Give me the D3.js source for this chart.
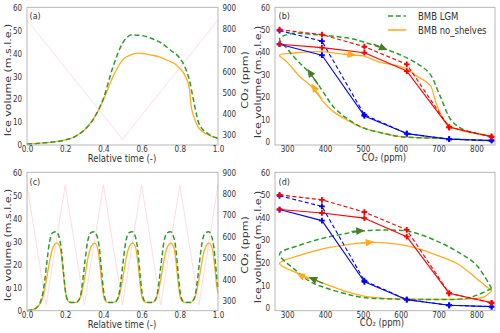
<!DOCTYPE html>
<html lang="en">
<head>
<meta charset="UTF-8">
<script src="https://cdn.jsdelivr.net/npm/d3@7"></script>
<title>Ice volume hysteresis</title>
<style>
    body { margin: 0; background: white; }
    text { font-family: "DejaVu Sans", sans-serif; fill: #333; }
</style>
</head>
<body>
<svg id="fig" width="500" height="333"></svg>
<script>
// ---- data ----
// (a) single slow CO2 cycle
const co2TimeA = [0, 0.5, 1];
const co2ValA = [840, 280, 840];
const timeA_ns = [0, 0.1, 0.2, 0.25, 0.3, 0.35, 0.4, 0.45, 0.5, 0.55, 0.58, 0.65, 0.7, 0.75, 0.78, 0.8, 0.83, 0.85, 0.86, 0.88, 0.9, 0.95, 1.0];
const iceA_ns = [0.4, 1, 2.2, 3.6, 6.5, 11.6, 19.6, 29.8, 37, 39.5, 40, 39.2, 38.2, 36.3, 35, 33.4, 29.8, 24.7, 16.7, 10.9, 7.3, 4.4, 2.9];
const timeA_lgm = [0, 0.1, 0.2, 0.25, 0.3, 0.35, 0.4, 0.45, 0.5, 0.55, 0.6, 0.65, 0.7, 0.75, 0.8, 0.83, 0.85, 0.87, 0.89, 0.9, 0.95, 1.0];
const iceA_lgm = [0.4, 1, 2.2, 3.6, 6.5, 11.6, 20.3, 34, 44.3, 48, 47.7, 46.5, 44.6, 41.4, 37.8, 33.4, 28.3, 20.3, 12.4, 9.4, 4.8, 2.9];

// (b) same run against CO2
const co2B_ns = [840, 800, 700, 600, 555, 500, 458, 422, 400, 372, 360, 334, 299, 280, 325, 387, 466, 500, 545, 600, 616, 640, 665, 680, 692, 702, 720, 755, 800, 840];
const iceB_ns = [0.4, 0.7, 1.5, 2.2, 3.7, 6.2, 9.7, 13.4, 17, 23, 25.3, 29, 35.7, 38.5, 39.7, 40.2, 38.7, 38.3, 35.5, 33.5, 32.5, 29.5, 27, 24.5, 18, 13.5, 8.5, 5.2, 3.5, 2.5];
const co2B_lgm = [840, 800, 700, 600, 555, 500, 458, 422, 400, 380, 360, 340, 320, 300, 280, 317, 340, 387, 467, 500, 555, 600, 642, 676, 703, 733, 763, 800, 840];
const iceB_lgm = [0.4, 0.7, 1.5, 2.2, 3.7, 6.2, 10.4, 15.6, 21, 26, 30.5, 34, 37.5, 41.5, 46, 48.4, 48.3, 47.6, 46.1, 44.6, 41.6, 38.7, 35, 30.5, 20.8, 9.7, 5.6, 3.7, 2.5];

// steady-state reference branches (red and blue, solid and dashed)
const co2Steps = [280, 392, 504, 616, 728, 840];
const redSolid = [43.5, 42, 39.7, 31.5, 6.4, 2.2];
const redDashed = [50, 47.8, 42.4, 34.5, 6.4, 2.2];
const blueSolid = [43.5, 38.6, 11.5, 3.6, 1.1, 0.5];
const blueDashed = [49.6, 44.9, 12, 3.6, 1.1, 0.5];

// (c) five fast CO2 cycles
const co2TimeC = [0, 0.1, 0.2, 0.3, 0.4, 0.5, 0.6, 0.7, 0.8, 0.9, 1.0];
const co2ValC = [840, 280, 840, 280, 840, 280, 840, 280, 840, 280, 840];
const timeC_ns = [0, 0.03, 0.05, 0.07, 0.085, 0.1, 0.115, 0.13, 0.145, 0.157, 0.174, 0.186, 0.197, 0.209, 0.226,
    0.255, 0.27, 0.287, 0.304, 0.322, 0.339, 0.353, 0.37, 0.382, 0.393, 0.405, 0.422,
    0.455, 0.47, 0.487, 0.504, 0.522, 0.539, 0.553, 0.57, 0.582, 0.593, 0.605, 0.622,
    0.655, 0.67, 0.687, 0.704, 0.722, 0.739, 0.753, 0.77, 0.782, 0.793, 0.805, 0.822,
    0.855, 0.87, 0.887, 0.904, 0.922, 0.939, 0.953, 0.97, 0.982, 0.993, 1.0];
const iceC_ns = [0, 0.5, 1.3, 3.3, 6.5, 12.5, 20, 26, 28.8, 29.3, 27, 19.6, 11, 5, 3.6,
    3.6, 4.4, 8, 15.3, 24, 28.3, 29.3, 27, 19.6, 11, 5, 3.6,
    3.6, 4.4, 8, 15.3, 24, 28.3, 29.3, 27, 19.6, 11, 5, 3.6,
    3.6, 4.4, 8, 15.3, 24, 28.3, 29.3, 27, 19.6, 11, 5, 3.6,
    3.6, 4.4, 8, 15.3, 24, 28.3, 29.3, 27, 19.6, 11, 7.5];
const timeC_lgm = [0, 0.03, 0.05, 0.078, 0.092, 0.104, 0.118, 0.134, 0.152, 0.165, 0.179, 0.191, 0.202, 0.214, 0.23,
    0.258, 0.278, 0.291, 0.303, 0.317, 0.333, 0.352, 0.365, 0.379, 0.391, 0.402, 0.414, 0.43,
    0.458, 0.478, 0.491, 0.503, 0.517, 0.533, 0.552, 0.565, 0.579, 0.591, 0.602, 0.614, 0.63,
    0.658, 0.678, 0.691, 0.703, 0.717, 0.733, 0.752, 0.765, 0.779, 0.791, 0.802, 0.814, 0.83,
    0.858, 0.878, 0.891, 0.903, 0.917, 0.933, 0.952, 0.965, 0.979, 0.991, 1.0];
const iceC_lgm = [0, 0.5, 1.3, 5.8, 12.4, 21, 29.8, 33.7, 34.2, 32.7, 27, 16.7, 8, 4.4, 3.6,
    3.6, 5.8, 12.4, 21, 29.8, 33.7, 34.2, 32.7, 27, 16.7, 8, 4.4, 3.6,
    3.6, 5.8, 12.4, 21, 29.8, 33.7, 34.2, 32.7, 27, 16.7, 8, 4.4, 3.6,
    3.6, 5.8, 12.4, 21, 29.8, 33.7, 34.2, 32.7, 27, 16.7, 8, 4.4, 3.6,
    3.6, 5.8, 12.4, 21, 29.8, 33.7, 34.2, 32.7, 27, 16.7, 9];

// (d) fast cycles against CO2 (one loop, later loops overlap)
const co2D_ns = [840, 820, 780, 700, 600, 547, 500, 450, 400, 335, 280, 335, 400, 460, 520, 600, 650, 700, 750, 800, 840];
const iceD_ns = [7.5, 4.8, 3.9, 3.7, 3.9, 4.3, 5.3, 7.5, 10.6, 14.8, 19.6, 23.3, 26.3, 28, 29, 28, 26, 23, 19.5, 13, 7.5];
const co2D_lgm = [840, 800, 766, 678, 600, 500, 450, 400, 362, 320, 280, 335, 400, 500, 573, 626, 700, 750, 800, 840];
const iceD_lgm = [8.5, 5.5, 4, 3.7, 3.8, 4.6, 6.4, 8.9, 11.5, 17, 23.8, 27.8, 31, 34, 34.4, 33.7, 29.2, 24.8, 18.9, 8.5];

// direction arrows: [co2 from, ice from, co2 to, ice to]
const arrowsB_lgm = [[528, 43.6, 565, 40.9], [382, 25.5, 353, 32.5]];
const arrowsB_ns = [[450, 39.2, 482, 38.6], [392, 19, 364, 25.8]];
const arrowsD_lgm = [[470, 33.8, 505, 34.2], [395, 10.8, 357, 13.6]];
const arrowsD_ns = [[495, 28.6, 530, 29.2], [357, 12.6, 325, 15.3]];

const timeTicks = [0, 0.2, 0.4, 0.6, 0.8, 1.0];
const iceTicks = [0, 10, 20, 30, 40, 50, 60];
const co2RightTicks = [300, 400, 500, 600, 700, 800, 900];
const co2Ticks = [300, 400, 500, 600, 700, 800];

// ---- drawing ----
const SX = 0.85;           // the source figure is a bit squeezed horizontally
const green = "#2f9a2f", greenArrow = "#4a7d2b", orange = "#ffad1f", pink = "#ffd3dc";
const frameColor = "#b0b0b0";

const svg = d3.select("#fig");

function panel(box, xd, yd) {
    const g = svg.append("g");
    const x = d3.scaleLinear().domain(xd).range([box.x0, box.x1]);
    const y = d3.scaleLinear().domain(yd).range([box.y1, box.y0]);
    return { g, x, y, box };
}

function styleAxis(sel, size) {
    sel.select(".domain").remove();
    sel.selectAll("text").attr("font-size", size).attr("fill", "#333")
        .attr("transform", `scale(0.8,1)`);
}

function frame(p) {
    p.g.append("rect")
        .attr("x", p.box.x0).attr("y", p.box.y0)
        .attr("width", p.box.x1 - p.box.x0).attr("height", p.box.y1 - p.box.y0)
        .attr("fill", "none").attr("stroke", frameColor).attr("stroke-width", 0.9);
}

function label(x, y, s, size, anchor, rot) {
    const t = svg.append("text")
        .attr("font-size", size)
        .attr("text-anchor", anchor)
        .attr("transform", rot ? `translate(${x},${y}) rotate(-90) scale(1,${SX})` : `translate(${x},${y}) scale(${SX},1)`)
        .text(s);
    return t;
}

function axesTime(p, rightY) {
    p.g.append("g").attr("transform", `translate(0,${p.box.y1})`)
        .call(d3.axisBottom(p.x).tickValues(timeTicks).tickFormat(d3.format(".1f")).tickSize(0).tickPadding(0.8))
        .call(s => styleAxis(s, 9));
    p.g.append("g").attr("transform", `translate(${p.box.x0},0)`)
        .call(d3.axisLeft(p.y).tickValues(iceTicks).tickSize(0).tickPadding(6.2))
        .call(s => styleAxis(s, 9));
    p.g.append("g").attr("transform", `translate(${p.box.x1},0)`)
        .call(d3.axisRight(rightY).tickValues(co2RightTicks).tickSize(0).tickPadding(5.5))
        .call(s => styleAxis(s, 9));
}

function axesCO2(p) {
    p.g.append("g").attr("transform", `translate(0,${p.box.y1})`)
        .call(d3.axisBottom(p.x).tickValues(co2Ticks).tickSize(0).tickPadding(0.8))
        .call(s => styleAxis(s, 9));
    p.g.append("g").attr("transform", `translate(${p.box.x0},0)`)
        .call(d3.axisLeft(p.y).tickValues(iceTicks).tickSize(0).tickPadding(6.2))
        .call(s => styleAxis(s, 9));
}

function line(p, xs, ys, color, width, dash, curve, yScale) {
    const yS = yScale || p.y;
    const gen = d3.line().x(d => p.x(d[0])).y(d => yS(d[1])).curve(curve || d3.curveLinear);
    p.g.append("path")
        .attr("d", gen(d3.zip(xs, ys)))
        .attr("fill", "none").attr("stroke", color).attr("stroke-width", width)
        .attr("stroke-dasharray", dash || null)
        .attr("stroke-linejoin", "round");
}

const plusMarker = d3.symbol(d3.symbolCross, 18);
function markers(p, xs, ys, color) {
    p.g.selectAll(null).data(d3.zip(xs, ys)).enter().append("path")
        .attr("d", plusMarker)
        .attr("transform", d => `translate(${p.x(d[0])},${p.y(d[1])})`)
        .attr("fill", color);
}

function arrows(p, list, color) {
    list.forEach(a => {
        const x0 = p.x(a[0]), y0 = p.y(a[1]), x1 = p.x(a[2]), y1 = p.y(a[3]);
        const ang = Math.atan2(y1 - y0, x1 - x0);
        const L = 8.5, hw = 3.8;
        const bx = x1 - L * Math.cos(ang), by = y1 - L * Math.sin(ang);
        p.g.append("line").attr("x1", x0).attr("y1", y0).attr("x2", bx).attr("y2", by)
            .attr("stroke", color).attr("stroke-width", 1.3);
        const pts = [[x1, y1],
            [bx + hw * Math.sin(ang), by - hw * Math.cos(ang)],
            [bx - hw * Math.sin(ang), by + hw * Math.cos(ang)]];
        p.g.append("path").attr("d", "M" + pts.map(q => q.join(",")).join("L") + "Z").attr("fill", color);
    });
}

function steadyBranches(p) {
    line(p, co2Steps, blueDashed, "blue", 1.1, "4,2.5");
    line(p, co2Steps, blueSolid, "blue", 1.1);
    markers(p, co2Steps, blueDashed, "blue");
    markers(p, co2Steps, blueSolid, "blue");
    line(p, co2Steps, redDashed, "red", 1.1, "4,2.5");
    line(p, co2Steps, redSolid, "red", 1.1);
    markers(p, co2Steps, redDashed, "red");
    markers(p, co2Steps, redSolid, "red");
}

const boxA = { x0: 27, x1: 218, y0: 7.3, y1: 145 };
const boxB = { x0: 275, x1: 495, y0: 7.3, y1: 145 };
const boxC = { x0: 27, x1: 218, y0: 172.3, y1: 310.7 };
const boxD = { x0: 275, x1: 495, y0: 172.3, y1: 310.7 };

// (a)
const pa = panel(boxA, [0, 1], [0, 60]);
const ya2 = d3.scaleLinear().domain([253, 900]).range([boxA.y1, boxA.y0]);
line(pa, co2TimeA, co2ValA, pink, 0.8, null, d3.curveLinear, ya2);
line(pa, timeA_ns, iceA_ns, orange, 1.3, null, d3.curveMonotoneX);
line(pa, timeA_lgm, iceA_lgm, green, 1.5, "5,2.8", d3.curveMonotoneX);
frame(pa);
axesTime(pa, ya2);

// (b)
const pb = panel(boxB, [268, 849], [-1.5, 60]);
line(pb, co2B_ns, iceB_ns, orange, 1.3, null, d3.curveCatmullRom.alpha(0.5));
line(pb, co2B_lgm, iceB_lgm, green, 1.5, "5,2.8", d3.curveCatmullRom.alpha(0.5));
steadyBranches(pb);
arrows(pb, arrowsB_lgm, greenArrow);
arrows(pb, arrowsB_ns, orange);
frame(pb);
axesCO2(pb);

// legend
pb.g.append("line").attr("x1", 388).attr("x2", 406).attr("y1", 16).attr("y2", 16)
    .attr("stroke", green).attr("stroke-width", 1.6).attr("stroke-dasharray", "5,2.8");
pb.g.append("line").attr("x1", 388).attr("x2", 406).attr("y1", 30).attr("y2", 30)
    .attr("stroke", orange).attr("stroke-width", 1.6);
label(418, 19.5, "BMB LGM", 10, "start");
label(418, 33.5, "BMB no_shelves", 10, "start");

// (c)
const pc = panel(boxC, [0, 1], [0, 60]);
const yc2 = d3.scaleLinear().domain([253, 900]).range([boxC.y1, boxC.y0]);
line(pc, co2TimeC, co2ValC, pink, 0.8, null, d3.curveLinear, yc2);
line(pc, timeC_ns, iceC_ns, orange, 1.3, null, d3.curveMonotoneX);
line(pc, timeC_lgm, iceC_lgm, green, 1.5, "5,2.8", d3.curveMonotoneX);
frame(pc);
axesTime(pc, yc2);

// (d)
const pd = panel(boxD, [268, 849], [-1.3, 60]);
line(pd, co2D_ns, iceD_ns, orange, 1.3, null, d3.curveCatmullRom.alpha(0.5));
line(pd, co2D_lgm, iceD_lgm, green, 1.5, "5,2.8", d3.curveCatmullRom.alpha(0.5));
steadyBranches(pd);
arrows(pd, arrowsD_lgm, greenArrow);
arrows(pd, arrowsD_ns, orange);
frame(pd);
axesCO2(pd);

// panel letters and axis titles
label(29.5, 18.5, "(a)", 9.5, "start");
label(278.5, 18.5, "(b)", 9.5, "start");
label(29.5, 185, "(c)", 9.5, "start");
label(278.5, 185, "(d)", 9.5, "start");

label(122, 162, "Relative time (-)", 10, "middle");
label(122, 328, "Relative time (-)", 10, "middle");
label(384, 160.5, "CO₂ (ppm)", 10, "middle");
label(382, 326, "CO₂ (ppm)", 10, "middle");

label(11, 80, "Ice volume (m.s.l.e.)", 11, "middle", true);
label(11, 245, "Ice volume (m.s.l.e.)", 11, "middle", true);
label(261, 82, "Ice volume (m.s.l.e.)", 11, "middle", true);
label(261, 247, "Ice volume (m.s.l.e.)", 11, "middle", true);

label(248, 80, "CO₂ (ppm)", 11, "middle", true);
label(248, 245, "CO₂ (ppm)", 11, "middle", true);
</script>
</body>
</html>
